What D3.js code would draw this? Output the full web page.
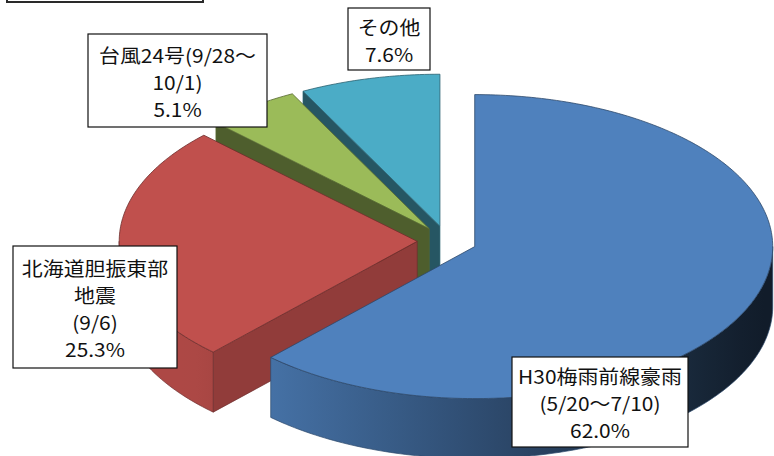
<!DOCTYPE html>
<html lang="ja">
<head>
<meta charset="UTF-8">
<title>災害別割合</title>
<script src="https://d3js.org/d3.v7.min.js"></script>
<style>
  body { margin: 0; background: #fff; }
  svg { display: block; }
  .label text {
    font-family: "Noto Sans CJK JP", sans-serif;
    font-size: 19px;
    fill: #111;
  }
  .label rect { fill: #fff; stroke: #111; stroke-width: 1.2; }
</style>
</head>
<body>
<svg id="chart" width="774" height="456"></svg>
<script>
// data, clockwise from 12 o'clock
const categories = ["H30梅雨前線豪雨", "北海道胆振東部地震", "台風24号", "その他"];
const shares = [62.0, 25.3, 5.1, 7.6];
const labelLines = [
    ["H30梅雨前線豪雨", "(5/20～7/10)"],
    ["北海道胆振東部", "地震", "(9/6)"],
    ["台風24号(9/28～", "10/1)"],
    ["その他"]
];

const colors = ["#4F81BD", "#C0504D", "#9BBB59", "#4BACC6"];

// label boxes (layout only)
const labelBoxes = [
    {x: 512, y: 357, w: 176, h: 90},
    {x: 13, y: 246, w: 164, h: 122},
    {x: 88, y: 34, w: 179, h: 93},
    {x: 348, y: 8, w: 82, h: 62}
];

const cx = 447, cy = 241, rx = 298, ry = 152;
const depth = 60;      // thickness of the pie
const explode = 0.1;   // fraction of radius
const lineH = 27;

const svg = d3.select("#chart");
const defs = svg.append("defs");

// plane coords (-1..1) -> screen
const x = d3.scaleLinear().domain([-1, 1]).range([cx - rx, cx + rx]);
const y = d3.scaleLinear().domain([-1, 1]).range([cy + ry, cy - ry]);
const line = d3.line();
const pct = d3.format(".1f");

const pie = d3.pie().sort(null).value(d => d)(shares);

const slices = pie.map((p, i) => {
    const mid = (p.startAngle + p.endAngle) / 2;
    return Object.assign({}, p, {
        i: i,
        color: colors[i],
        off: [explode * Math.sin(mid), explode * Math.cos(mid)]
    });
});
// back to front
slices.sort((a, b) => b.off[1] - a.off[1]);

function pt(s, a, r, z) {
    return [x(s.off[0] + r * Math.sin(a)), y(s.off[1] + r * Math.cos(a)) + z];
}

function arcPts(s, a0, a1, z) {
    const n = Math.max(2, Math.ceil(Math.abs(a1 - a0) / (Math.PI / 180)));
    return d3.range(n + 1).map(k => pt(s, a0 + (a1 - a0) * k / n, 1, z));
}

function shade(c, f) {
    return d3.rgb(c.r * f, c.g * f, c.b * f).formatHex();
}

// curved wall brightness by angle
function outerLight(a) {
    return Math.max(0.22, Math.min(0.9, 0.6 - 0.4 * Math.sin(a)));
}

// title box, cut off at the top
svg.append("rect")
    .attr("x", 7).attr("y", -30)
    .attr("width", 196).attr("height", 32)
    .attr("fill", "#fff")
    .attr("stroke", "#2a2a2a")
    .attr("stroke-width", 2);

const pieG = svg.append("g");

slices.forEach(s => {
    const base = d3.rgb(s.color);
    const edge = base.darker(1.6).formatHex();
    const sg = pieG.append("g");
    const apex = pt(s, 0, 0, 0);
    const apexB = pt(s, 0, 0, depth);

    // radial walls that face the viewer
    const radial = [
        [s.startAngle, -Math.cos(s.startAngle), Math.sin(s.startAngle) < -1e-6],
        [s.endAngle, Math.cos(s.endAngle), Math.sin(s.endAngle) > 1e-6]
    ];
    radial.forEach(([a, nx, visible]) => {
        if (!visible) return;
        const o = pt(s, a, 1, 0), oB = pt(s, a, 1, depth);
        sg.append("path")
            .attr("d", line([apex, o, oB, apexB]) + "Z")
            .attr("fill", shade(base, 0.5 + 0.35 * Math.max(0, nx)))
            .attr("stroke", edge)
            .attr("stroke-width", 0.7)
            .attr("stroke-linejoin", "round");
    });

    // front part of the curved wall
    const lo = Math.max(s.startAngle, Math.PI / 2);
    const hi = Math.min(s.endAngle, 3 * Math.PI / 2);
    if (hi > lo) {
        const x1 = pt(s, lo, 1, 0)[0], x2 = pt(s, hi, 1, 0)[0];
        const grad = defs.append("linearGradient")
            .attr("id", "wall" + s.i)
            .attr("gradientUnits", "userSpaceOnUse")
            .attr("x1", x1).attr("x2", x2)
            .attr("y1", 0).attr("y2", 0);
        d3.range(11).forEach(k => {
            const a = lo + (hi - lo) * k / 10;
            const px = pt(s, a, 1, 0)[0];
            grad.append("stop")
                .attr("offset", Math.abs(x2 - x1) < 1e-6 ? k / 10 : (px - x1) / (x2 - x1))
                .attr("stop-color", shade(base, outerLight(a)));
        });
        const top = arcPts(s, lo, hi, 0);
        const bot = arcPts(s, hi, lo, depth);
        sg.append("path")
            .attr("d", line(top.concat(bot)) + "Z")
            .attr("fill", "url(#wall" + s.i + ")")
            .attr("stroke", edge)
            .attr("stroke-width", 0.7)
            .attr("stroke-linejoin", "round");
    }

    // top face
    sg.append("path")
        .attr("d", line([apex].concat(arcPts(s, s.startAngle, s.endAngle, 0))) + "Z")
        .attr("fill", s.color)
        .attr("stroke", edge)
        .attr("stroke-width", 0.8)
        .attr("stroke-linejoin", "round");
});

// data labels
const labels = svg.selectAll("g.label")
    .data(categories.map((c, i) => ({
        name: c,
        lines: labelLines[i].concat([pct(shares[i]) + "%"]),
        box: labelBoxes[i]
    })))
    .join("g")
    .attr("class", "label");

labels.append("rect")
    .attr("x", d => d.box.x)
    .attr("y", d => d.box.y)
    .attr("width", d => d.box.w)
    .attr("height", d => d.box.h);

labels.each(function(d) {
    const g = d3.select(this);
    const mx = d.box.x + d.box.w / 2;
    const my = d.box.y + d.box.h / 2 + 1;
    const n = d.lines.length;
    d.lines.forEach((t, k) => {
        g.append("text")
            .attr("transform", `translate(${mx},${my + (k - (n - 1) / 2) * lineH}) scale(1.1,1)`)
            .attr("text-anchor", "middle")
            .attr("dominant-baseline", "central")
            .text(t);
    });
});
</script>
</body>
</html>
